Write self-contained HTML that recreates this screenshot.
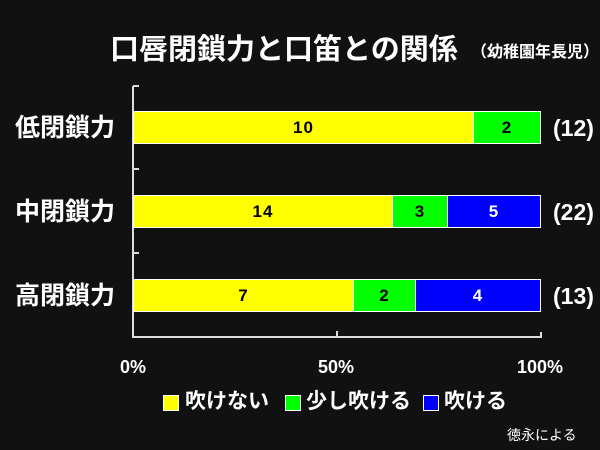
<!DOCTYPE html>
<html><head><meta charset="utf-8"><style>
body{margin:0;width:600px;height:450px;background:#111;overflow:hidden;position:relative;font-family:"Liberation Sans","Noto Sans CJK JP",sans-serif;color:#fff}
.a{position:absolute;white-space:nowrap}
.bar{position:absolute;height:33px;border:1px solid #fff;box-sizing:border-box;color:#000;font-weight:bold;font-size:17px;letter-spacing:1px;display:flex;align-items:center;justify-content:center}
.y{background:#ff0}.g{background:#0f0}.b{background:#00f;color:#fff}
.lab{font-size:25px;font-weight:bold;line-height:30px}
.n{font-size:23px;font-weight:bold;line-height:28px}
.sq{position:absolute;width:14px;height:14px;border:1px solid #fff;top:395px}
.lg{font-size:21px;font-weight:bold;top:388px;line-height:28px}
</style></head><body>
<div class="a" style="left:110px;top:32px;font-size:29px;line-height:36px;font-weight:bold">口唇閉鎖力と口笛との関係</div>
<div class="a" style="left:471px;top:43px;font-size:16px;line-height:20px;font-weight:bold">（幼稚園年長児）</div>

<svg class="a" style="left:0;top:0" width="600" height="450">
<g stroke="#ddd" stroke-width="2" fill="none">
<path d="M133 86H139M133 86V337H541V332M337 337V331M133 169H139M133 253H139"/>
</g></svg>

<div class="lab a" style="left:15px;top:113px">低閉鎖力</div>
<div class="lab a" style="left:15px;top:197px">中閉鎖力</div>
<div class="lab a" style="left:15px;top:281px">高閉鎖力</div>

<div class="bar y" style="left:133px;top:111px;width:341px">10</div>
<div class="bar g" style="left:473px;top:111px;width:68px">2</div>
<div class="bar y" style="left:133px;top:195px;width:260px">14</div>
<div class="bar g" style="left:392px;top:195px;width:56px">3</div>
<div class="bar b" style="left:447px;top:195px;width:94px">5</div>
<div class="bar y" style="left:133px;top:279px;width:221px">7</div>
<div class="bar g" style="left:353px;top:279px;width:63px">2</div>
<div class="bar b" style="left:415px;top:279px;width:126px">4</div>

<div class="n a" style="left:553px;top:114px">(12)</div>
<div class="n a" style="left:553px;top:198px">(22)</div>
<div class="n a" style="left:553px;top:282px">(13)</div>

<div class="a" style="left:120px;top:356px;font-size:18px;line-height:22px;font-weight:bold">0%</div>
<div class="a" style="left:318px;top:356px;font-size:18px;line-height:22px;font-weight:bold">50%</div>
<div class="a" style="left:517px;top:356px;font-size:18px;line-height:22px;font-weight:bold">100%</div>

<div class="sq" style="left:163px;background:#ff0"></div>
<div class="a lg" style="left:185px">吹けない</div>
<div class="sq" style="left:285px;background:#0f0"></div>
<div class="a lg" style="left:306px">少し吹ける</div>
<div class="sq" style="left:423px;background:#00f"></div>
<div class="a lg" style="left:444px">吹ける</div>

<div class="a" style="left:507px;top:426px;font-size:14px;line-height:18px">徳永による</div>
</body></html>
